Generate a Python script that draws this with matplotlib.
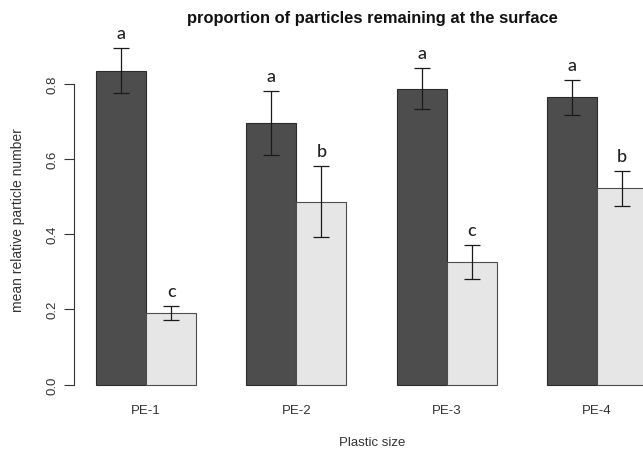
import matplotlib
matplotlib.use("Agg")
import matplotlib.pyplot as plt
import numpy as np

categories = ["PE-1", "PE-2", "PE-3", "PE-4"]
dark_means = [0.835, 0.695, 0.787, 0.764]
dark_err = [0.060, 0.085, 0.055, 0.046]
light_means = [0.190, 0.486, 0.326, 0.522]
light_err = [0.019, 0.095, 0.045, 0.047]
dark_letters = ["a", "a", "a", "a"]
light_letters = ["c", "b", "c", "b"]

W, H = 643, 452
fig = plt.figure(figsize=(W / 100, H / 100), dpi=100)
plt.rcParams['font.family'] = ['Liberation Sans', 'DejaVu Sans']

left_px, right_px = 74, 669
y0_px = 385.5
ppu = 376.0
ytop = 1.0
ax = fig.add_axes([left_px / W, (H - y0_px) / H, (right_px - left_px) / W, ppu * ytop / H])
ax.set_xlim(0.56, 12.44)
ax.set_ylim(0, ytop)

n = len(categories)
dark_x = np.array([1.5 + 3 * i for i in range(n)])
light_x = dark_x + 1.0

ax.bar(dark_x, dark_means, width=1.0, color="#4d4d4d", edgecolor="#2b2b2b", linewidth=0.8, clip_on=False)
ax.bar(light_x, light_means, width=1.0, color="#e6e6e6", edgecolor="#4d4d4d", linewidth=0.8, clip_on=False)
ax.errorbar(dark_x, dark_means, yerr=dark_err, fmt="none", ecolor="#1a1a1a", elinewidth=0.9,
            capsize=5.5, capthick=0.9, clip_on=False)
ax.errorbar(light_x, light_means, yerr=light_err, fmt="none", ecolor="#1a1a1a", elinewidth=0.9,
            capsize=5.5, capthick=0.9, clip_on=False)

off = 15.0 / ppu
for x, m, e, t in zip(dark_x, dark_means, dark_err, dark_letters):
    ax.text(x, m + e + off, t, ha="center", va="center", fontsize=13, family=["Lato", "DejaVu Sans"],
            fontweight="medium", color="#222222")
for x, m, e, t in zip(light_x, light_means, light_err, light_letters):
    ax.text(x, m + e + off, t, ha="center", va="center", fontsize=13, family=["Lato", "DejaVu Sans"],
            fontweight="medium", color="#222222")

for s in ["top", "right", "bottom"]:
    ax.spines[s].set_visible(False)
ax.spines["left"].set_bounds(0, 0.8)
ax.spines["left"].set_color("#333333")
ax.spines["left"].set_linewidth(0.8)
ax.set_yticks([0.0, 0.2, 0.4, 0.6, 0.8])
ax.set_yticklabels(["0.0", "0.2", "0.4", "0.6", "0.8"], rotation=90, va="center", fontsize=9.5, color="#333333")
ax.tick_params(axis="y", length=7, width=0.8, color="#333333", pad=4)
ax.set_xticks((dark_x + light_x) / 2)
ax.set_xticklabels(categories, fontsize=9.5, color="#333333")
ax.tick_params(axis="x", length=0, pad=14)

fig.text(18 / W, 1 - 220 / H, "mean relative particle number", rotation=90, ha="center", va="center",
         fontsize=10, color="#333333")
fig.text(372 / W, 1 - 443 / H, "Plastic size", ha="center", va="center", fontsize=9.5, color="#333333")
fig.text(372 / W, 1 - 18 / H, "proportion of particles remaining at the surface", ha="center", va="center",
         fontsize=11.9, fontweight="bold", color="#111111")

fig.savefig("out.png", dpi=100)
